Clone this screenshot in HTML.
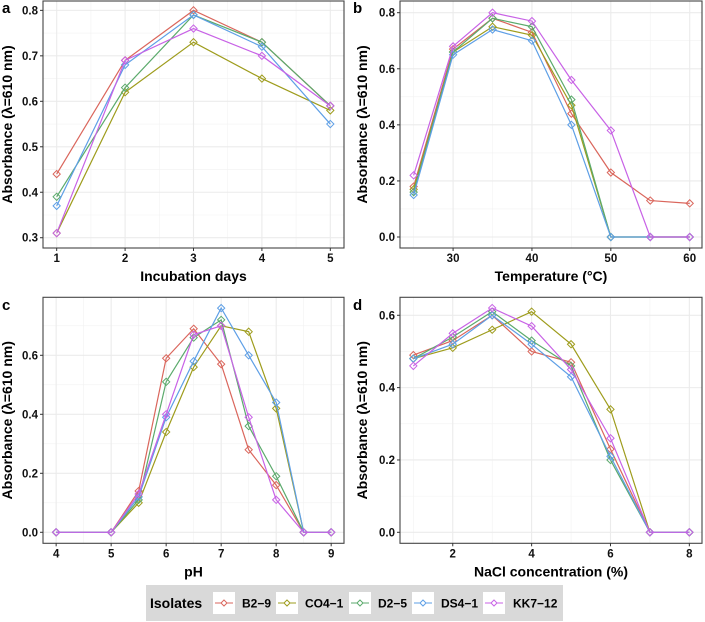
<!DOCTYPE html>
<html><head><meta charset="utf-8"><style>
html,body{margin:0;padding:0;background:#fff;}
svg{display:block;font-family:"Liberation Sans",Arial,sans-serif;}
</style></head><body>
<svg id="fig" width="705" height="622" viewBox="0 0 705 622"></svg>
<script>
const seriesNames = ["B2-9","CO4-1","D2-5","DS4-1","KK7-12"];
const colors = ["#DA665C","#9E9C1C","#5BAA6C","#5E9FE6","#C862E6"];

const aX = [1,2,3,4,5];
const aB29 = [0.44,0.69,0.80,0.73,0.59];
const aCO41 = [0.31,0.62,0.73,0.65,0.58];
const aD25 = [0.39,0.63,0.79,0.73,0.59];
const aDS41 = [0.37,0.68,0.79,0.72,0.55];
const aKK712 = [0.31,0.69,0.76,0.70,0.59];
const aXTicks = [1,2,3,4,5];
const aYTicks = [0.3,0.4,0.5,0.6,0.7,0.8];

const bX = [25,30,35,40,45,50,55,60];
const bB29 = [0.18,0.67,0.78,0.73,0.44,0.23,0.13,0.12];
const bCO41 = [0.17,0.66,0.75,0.72,0.47,0,0,0];
const bD25 = [0.16,0.66,0.78,0.75,0.49,0,0,0];
const bDS41 = [0.15,0.65,0.74,0.70,0.40,0,0,0];
const bKK712 = [0.22,0.68,0.80,0.77,0.56,0.38,0,0];
const bXTicks = [30,40,50,60];
const bYTicks = [0,0.2,0.4,0.6,0.8];

const cX = [4,5,5.5,6,6.5,7,7.5,8,8.5,9];
const cB29 = [0,0,0.14,0.59,0.69,0.57,0.28,0.16,0,0];
const cCO41 = [0,0,0.10,0.34,0.56,0.70,0.68,0.42,0,0];
const cD25 = [0,0,0.11,0.51,0.66,0.72,0.36,0.19,0,0];
const cDS41 = [0,0,0.12,0.39,0.58,0.76,0.60,0.44,0,0];
const cKK712 = [0,0,0.13,0.40,0.67,0.70,0.39,0.11,0,0];
const cXTicks = [4,5,6,7,8,9];
const cYTicks = [0,0.2,0.4,0.6];

const dX = [1,2,3,4,5,6,7,8];
const dB29 = [0.49,0.53,0.60,0.50,0.47,0.23,0,0];
const dCO41 = [0.48,0.51,0.56,0.61,0.52,0.34,0,0];
const dD25 = [0.48,0.54,0.61,0.53,0.46,0.20,0,0];
const dDS41 = [0.48,0.52,0.60,0.52,0.43,0.21,0,0];
const dKK712 = [0.46,0.55,0.62,0.57,0.45,0.26,0,0];
const dXTicks = [2,4,6,8];
const dYTicks = [0,0.2,0.4,0.6];

const NS="http://www.w3.org/2000/svg";
const svg=document.getElementById('fig');
function el(tag,attrs,parent){const e=document.createElementNS(NS,tag);for(const k in attrs)e.setAttribute(k,attrs[k]);(parent||svg).appendChild(e);return e;}

function panel(cfg){
  const g=el('g',{});
  
  
  const {L,R,T,B,x0,x1,y0,y1}=cfg;
  const sx=v=>L+(v-x0)/(x1-x0)*(R-L);
  const sy=v=>B-(v-y0)/(y1-y0)*(B-T);
  el('rect',{x:L,y:T,width:R-L,height:B-T,fill:'#fff'},g);
  cfg.xMinor.forEach(v=>el('line',{x1:sx(v),x2:sx(v),y1:T,y2:B,stroke:'#F2F2F2','stroke-width':0.6},g));
  cfg.yMinor.forEach(v=>el('line',{x1:L,x2:R,y1:sy(v),y2:sy(v),stroke:'#F2F2F2','stroke-width':0.6},g));
  cfg.xTicks.forEach(v=>el('line',{x1:sx(v),x2:sx(v),y1:T,y2:B,stroke:'#EBEBEB','stroke-width':1.1},g));
  cfg.yTicks.forEach(v=>el('line',{x1:L,x2:R,y1:sy(v),y2:sy(v),stroke:'#EBEBEB','stroke-width':1.1},g));
  cfg.series.forEach((ys,i)=>{
    const sg=el('g',{},g);
    
    
    const pts=ys.map((y,j)=>sx(cfg.xs[j]).toFixed(2)+','+sy(y).toFixed(2)).join(' ');
    el('polyline',{points:pts,fill:'none',stroke:colors[i],'stroke-width':1.2},sg);
    ys.forEach((y,j)=>{
      const cx=sx(cfg.xs[j]),cy=sy(y),r=3.6;
      const p=el('polygon',{points:`${cx},${cy-r} ${cx+r},${cy} ${cx},${cy+r} ${cx-r},${cy}`,fill:'none',stroke:colors[i],'stroke-width':1},sg);
      
      
    });
  });
  el('rect',{x:L,y:T,width:R-L,height:B-T,fill:'none',stroke:'#444','stroke-width':1.1},g);
  cfg.xTicks.forEach(v=>{
    el('line',{x1:sx(v),x2:sx(v),y1:B,y2:B+3,stroke:'#333','stroke-width':1},g);
    const t=el('text',{x:sx(v),y:B+14,'text-anchor':'middle','font-size':11.5,'font-weight':'bold',fill:'#111'},g);
    t.textContent=cfg.fmtX(v);
    
    
  });
  cfg.yTicks.forEach(v=>{
    el('line',{x1:L-3,x2:L,y1:sy(v),y2:sy(v),stroke:'#333','stroke-width':1},g);
    const t=el('text',{x:L-5,y:sy(v)+4,'text-anchor':'end','font-size':11.5,'font-weight':'bold',fill:'#111'},g);
    t.textContent=v.toFixed(1);
    
    
  });
  const xt=el('text',{x:(L+R)/2,y:B+33,'text-anchor':'middle','font-size':14,'font-weight':'bold',fill:'#000'},g);
  xt.textContent=cfg.xTitle;
  
  
  const yc=(T+B)/2, yx=cfg.yTitleX;
  const yt=el('text',{x:yx,y:yc,'text-anchor':'middle','font-size':14,'font-weight':'bold',fill:'#000',transform:`rotate(-90 ${yx} ${yc})`},g);
  yt.textContent='Absorbance (λ=610 nm)';
  
  
  const lb=el('text',{x:cfg.labX,y:cfg.labY,'font-size':15,'font-weight':'bold',fill:'#000'},g);
  lb.textContent=cfg.id;
  
  
}
const f0=v=>String(v);
panel({id:'a',L:43,R:344,T:1,B:248,x0:0.8,x1:5.2,y0:0.2774,y1:0.8206,xs:aX,series:[aB29,aCO41,aD25,aDS41,aKK712],
  xTicks:aXTicks,yTicks:aYTicks,xMinor:[1.5,2.5,3.5,4.5],yMinor:[0.35,0.45,0.55,0.65,0.75],fmtX:f0,xTitle:'Incubation days',yTitleX:12,labX:2,labY:13});
panel({id:'b',L:400,R:702,T:1,B:248,x0:23.27,x1:61.56,y0:-0.0392,y1:0.8417,xs:bX,series:[bB29,bCO41,bD25,bDS41,bKK712],
  xTicks:bXTicks,yTicks:bYTicks,xMinor:[25,35,45,55],yMinor:[0.1,0.3,0.5,0.7],fmtX:f0,xTitle:'Temperature (°C)',yTitleX:367,labX:353,labY:13});
panel({id:'c',L:43,R:344,T:297.3,B:543.3,x0:3.761,x1:9.233,y0:-0.0373,y1:0.7966,xs:cX,series:[cB29,cCO41,cD25,cDS41,cKK712],
  xTicks:cXTicks,yTicks:cYTicks,xMinor:[4.5,5.5,6.5,7.5,8.5],yMinor:[0.1,0.3,0.5,0.7],fmtX:f0,xTitle:'pH',yTitleX:12,labX:2,labY:310});
panel({id:'d',L:400,R:702,T:297.3,B:543.3,x0:0.662,x1:8.321,y0:-0.0304,y1:0.6497,xs:dX,series:[dB29,dCO41,dD25,dDS41,dKK712],
  xTicks:dXTicks,yTicks:dYTicks,xMinor:[1,3,5,7],yMinor:[0.1,0.3,0.5],fmtX:f0,xTitle:'NaCl concentration (%)',yTitleX:367,labX:353,labY:310});

const lg=el('g',{});


el('rect',{x:146,y:585,width:417,height:36,fill:'#D9D9D9'},lg);
const lt=el('text',{x:150,y:608,'font-size':14,'font-weight':'bold',fill:'#000'},lg);
lt.textContent='Isolates';


const keyX=[213,276,349,412,483];
const labX=[242,305,378,441,513];
seriesNames.forEach((n,i)=>{
  const eg=el('g',{},lg);
  
  
  el('rect',{x:keyX[i],y:592,width:22,height:22,fill:'#fff'},eg);
  el('line',{x1:keyX[i]+2,x2:keyX[i]+20,y1:603,y2:603,stroke:colors[i],'stroke-width':1.1},eg);
  const cx=keyX[i]+11,r=3;
  el('polygon',{points:`${cx},${603-r} ${cx+r},603 ${cx},${603+r} ${cx-r},603`,fill:'#fff',stroke:colors[i],'stroke-width':1},eg);
  const t=el('text',{x:labX[i],y:607.5,'font-size':12,'font-weight':'bold',fill:'#000'},eg);
  t.textContent=n.replace('-','\u2212');
});
</script>
</body></html>
